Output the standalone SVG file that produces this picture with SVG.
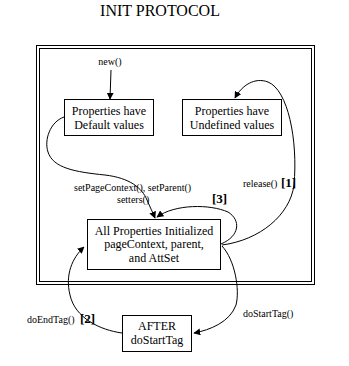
<svg xmlns="http://www.w3.org/2000/svg" width="349" height="366" viewBox="0 0 349 366">
<style>
.t{font-family:"Liberation Serif","Times New Roman",serif;fill:#000}
.box{font-size:12px;text-anchor:middle}
.lbl{font-size:10px}
.b{font-size:13px;font-weight:bold}
rect{fill:#fff;stroke:#000;stroke-width:1}
.c path{fill:none;stroke:#000;stroke-width:1;marker-end:url(#ah)}
</style>
<defs>
<marker id="ah" viewBox="0 0 10 10" refX="9" refY="5" markerWidth="7" markerHeight="7" markerUnits="userSpaceOnUse" orient="auto">
<path d="M0,0 L10,5 L0,10 z" fill="#000"/>
</marker>
</defs>
<rect width="349" height="366" style="stroke:none"/>
<text class="t" x="160" y="16" font-size="16" text-anchor="middle">INIT PROTOCOL</text>
<g id="frame">
<rect x="36.5" y="45.5" width="278" height="239"/>
<rect x="39.5" y="48.5" width="272" height="233"/>
</g>
<g id="default">
<rect x="64.5" y="99.5" width="89" height="36"/>
<text class="t box" x="109" y="115">Properties have</text>
<text class="t box" x="109" y="129">Default values</text>
</g>
<g id="undefined">
<rect x="182.5" y="99.5" width="99" height="36"/>
<text class="t box" x="232" y="115">Properties have</text>
<text class="t box" x="232" y="129">Undefined values</text>
</g>
<g id="initialized">
<rect x="87.5" y="219.5" width="133" height="50"/>
<text class="t box" x="154" y="235">All Properties Initialized</text>
<text class="t box" x="154" y="248">pageContext, parent,</text>
<text class="t box" x="154" y="262">and AttSet</text>
</g>
<g id="after">
<rect x="122.5" y="315.5" width="69" height="36"/>
<text class="t box" x="157" y="330">AFTER</text>
<text class="t box" x="157" y="344">doStartTag</text>
</g>
<g class="c" id="connectors">
<path d="M111,70 L110,99"/>
<path d="M64,117 C50,122 44,140 48,152 C53,168 75,172 105,175 C130,178 142,188 147,200 C150,207 153,213 155,218"/>
<path d="M221,244 C240,236 241,220 228,212 C210,204 175,204 157,217"/>
<path d="M222,245 C260,240 290,215 294,185 C298,140 288,90 268,82 C255,77 242,85 235,98"/>
<path d="M222,246 C235,260 240,290 236,305 C230,322 210,330 194,333"/>
<path d="M122,333 C100,330 75,318 70,295 C65,275 72,258 84,247"/>
</g>
<g id="labels">
<text class="t lbl" x="110" y="65" text-anchor="middle">new()</text>
<text class="t lbl" x="74" y="191">setPageContext(), setParent()</text>
<text class="t lbl" x="117" y="203">setters()</text>
<text class="t b" x="212" y="203">[3]</text>
<text class="t lbl" x="243" y="187">release()</text>
<text class="t b" x="281" y="187">[1]</text>
<text class="t lbl" x="243" y="317">doStartTag()</text>
<text class="t lbl" x="27" y="323">doEndTag()</text>
<text class="t b" x="80" y="323">[2]</text>
</g>
</svg>
